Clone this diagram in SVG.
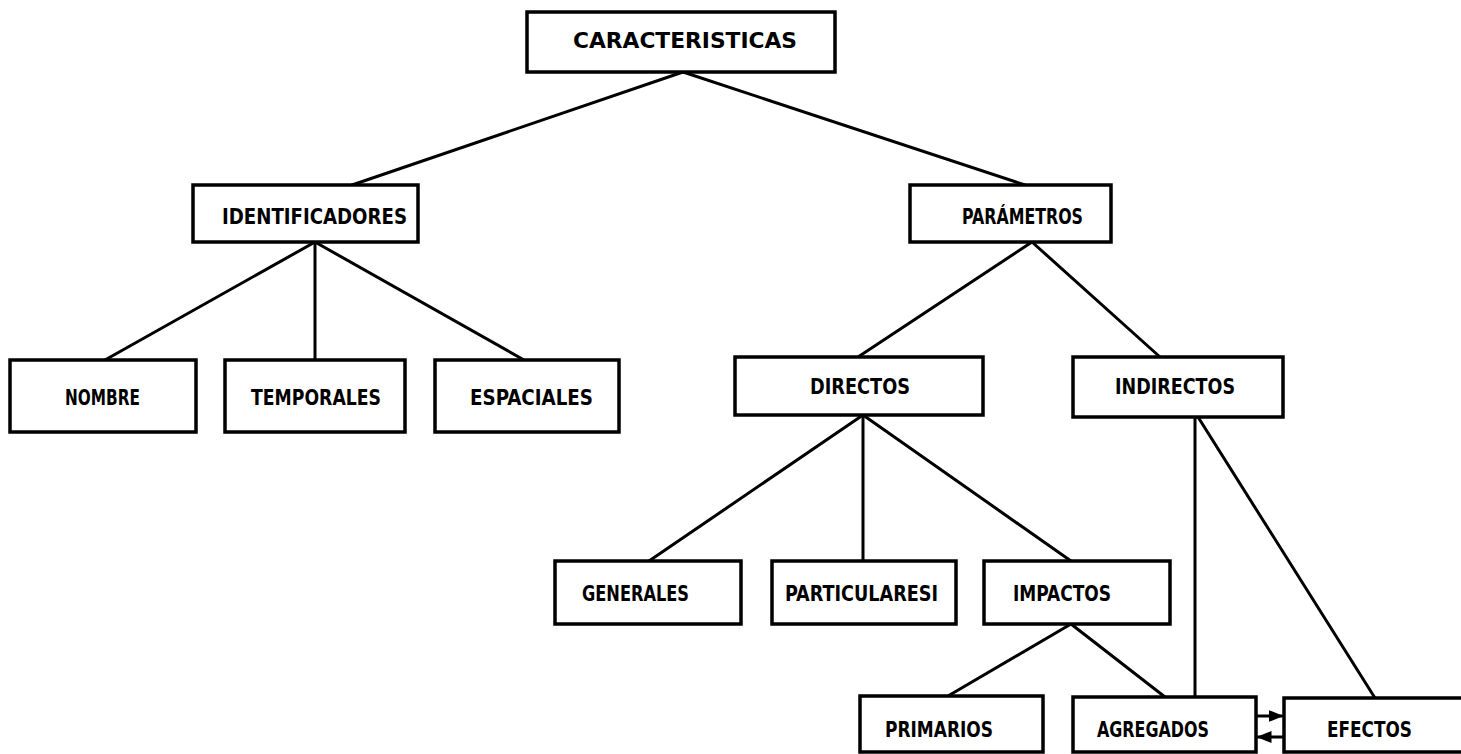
<svg xmlns="http://www.w3.org/2000/svg" width="1461" height="754" viewBox="0 0 1461 754">
  <style>
    .box { fill: #ffffff; stroke: #000000; stroke-width: 3.5; }
    .lbl { font-family: "DejaVu Sans Condensed", "DejaVu Sans", "Liberation Sans", sans-serif; font-weight: bold; font-size: 22px; fill: #000000; }
    .edge { stroke: #000000; stroke-width: 3; fill: none; stroke-linecap: round; }
  </style>
  <defs>
    <marker id="head" viewBox="0 0 10 10" refX="9" refY="5" markerWidth="5" markerHeight="5" orient="auto" markerUnits="strokeWidth">
      <path d="M0,1 L10,5 L0,9 Z" fill="#000000"/>
    </marker>
  </defs>
  <rect width="1461" height="754" fill="#ffffff"/>

  <!-- connectors -->
  <g id="connectors">
    <line class="edge" x1="683" y1="72" x2="352" y2="185"/>
    <line class="edge" x1="683" y1="72" x2="1025" y2="185"/>
    <line class="edge" x1="315" y1="242" x2="105" y2="360"/>
    <line class="edge" x1="315" y1="242" x2="315" y2="360"/>
    <line class="edge" x1="315" y1="242" x2="524" y2="360"/>
    <line class="edge" x1="1032" y1="242" x2="858" y2="357"/>
    <line class="edge" x1="1032" y1="242" x2="1160" y2="357"/>
    <line class="edge" x1="863" y1="415" x2="649" y2="561"/>
    <line class="edge" x1="863" y1="415" x2="863" y2="561"/>
    <line class="edge" x1="863" y1="415" x2="1071" y2="561"/>
    <line class="edge" x1="1071" y1="624" x2="948" y2="696"/>
    <line class="edge" x1="1071" y1="624" x2="1165" y2="697"/>
    <line class="edge" x1="1195" y1="417" x2="1195" y2="697"/>
    <line class="edge" x1="1198" y1="417" x2="1375" y2="698"/>
    <line class="edge" x1="1257" y1="716" x2="1282" y2="716" marker-end="url(#head)"/>
    <line class="edge" x1="1283" y1="737" x2="1258" y2="737" marker-end="url(#head)"/>
  </g>

  <g id="caracteristicas">
    <rect class="box" x="527" y="12" width="308" height="60"/>
    <text class="lbl" x="573" y="48" textLength="224" lengthAdjust="spacingAndGlyphs">CARACTERISTICAS</text>
  </g>
  <g id="identificadores">
    <rect class="box" x="193" y="185" width="225" height="57"/>
    <text class="lbl" x="222" y="224" textLength="185" lengthAdjust="spacingAndGlyphs">IDENTIFICADORES</text>
  </g>
  <g id="parametros">
    <rect class="box" x="910" y="185" width="201" height="57"/>
    <text class="lbl" x="962" y="224" textLength="121" lengthAdjust="spacingAndGlyphs">PARÁMETROS</text>
  </g>
  <g id="nombre">
    <rect class="box" x="10" y="360" width="186" height="72"/>
    <text class="lbl" x="65" y="405" textLength="75" lengthAdjust="spacingAndGlyphs">NOMBRE</text>
  </g>
  <g id="temporales">
    <rect class="box" x="225" y="360" width="180" height="72"/>
    <text class="lbl" x="251" y="405" textLength="130" lengthAdjust="spacingAndGlyphs">TEMPORALES</text>
  </g>
  <g id="espaciales">
    <rect class="box" x="435" y="360" width="184" height="72"/>
    <text class="lbl" x="470" y="405" textLength="123" lengthAdjust="spacingAndGlyphs">ESPACIALES</text>
  </g>
  <g id="directos">
    <rect class="box" x="735" y="357" width="248" height="58"/>
    <text class="lbl" x="810" y="394" textLength="100" lengthAdjust="spacingAndGlyphs">DIRECTOS</text>
  </g>
  <g id="indirectos">
    <rect class="box" x="1073" y="357" width="210" height="60"/>
    <text class="lbl" x="1115" y="394" textLength="120" lengthAdjust="spacingAndGlyphs">INDIRECTOS</text>
  </g>
  <g id="generales">
    <rect class="box" x="555" y="561" width="186" height="63"/>
    <text class="lbl" x="582" y="601" textLength="107" lengthAdjust="spacingAndGlyphs">GENERALES</text>
  </g>
  <g id="particulares">
    <rect class="box" x="772" y="561" width="184" height="63"/>
    <text class="lbl" x="785" y="601" textLength="153" lengthAdjust="spacingAndGlyphs">PARTICULARESI</text>
  </g>
  <g id="impactos">
    <rect class="box" x="984" y="561" width="186" height="63"/>
    <text class="lbl" x="1013" y="601" textLength="98" lengthAdjust="spacingAndGlyphs">IMPACTOS</text>
  </g>
  <g id="primarios">
    <rect class="box" x="860" y="696" width="183" height="56"/>
    <text class="lbl" x="885" y="737" textLength="108" lengthAdjust="spacingAndGlyphs">PRIMARIOS</text>
  </g>
  <g id="agregados">
    <rect class="box" x="1073" y="697" width="183" height="55"/>
    <text class="lbl" x="1097" y="737" textLength="112" lengthAdjust="spacingAndGlyphs">AGREGADOS</text>
  </g>
  <g id="efectos">
    <rect class="box" x="1284" y="698" width="190" height="54"/>
    <text class="lbl" x="1327" y="737" textLength="85" lengthAdjust="spacingAndGlyphs">EFECTOS</text>
  </g>
</svg>
